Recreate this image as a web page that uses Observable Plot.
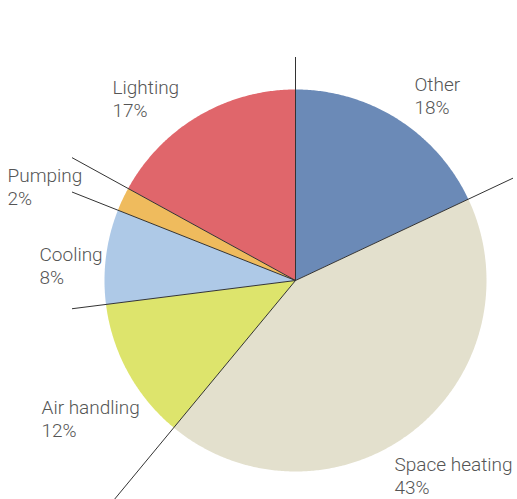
<!DOCTYPE html>
<html><head><meta charset="utf-8">
<script src="https://cdn.jsdelivr.net/npm/d3@7"></script>
<script src="https://cdn.jsdelivr.net/npm/@observablehq/plot@0.6"></script>
<style>body{margin:0;background:#fff}</style>
</head><body><div id="chart"></div>
<script>
const categories = ["Other", "Space heating", "Air handling", "Cooling", "Pumping", "Lighting"];
const shares = [18, 43, 12, 8, 2, 17];
const colors = ["#6b8ab7", "#e3e0cd", "#dde46c", "#aec9e7", "#efbb5d", "#e0666b"];

// layout (data units = pixels, origin at pie centre)
const R = 191;
const LEADER = 400;
const labelPos = [[119, 205], [99, -175], [-254, -118], [-256, 35], [-288, 114], [-183, 202]];

const total = d3.sum(shares);
let acc = 0;
const slices = categories.map((name, i) => {
  const a0 = acc / total * 2 * Math.PI;
  acc += shares[i];
  const a1 = acc / total * 2 * Math.PI;
  return {name, share: shares[i], a0, a1};
});
const wedgePts = slices.flatMap(s => {
  const pts = [{name: s.name, x: 0, y: 0}];
  const n = Math.max(2, Math.ceil((s.a1 - s.a0) / (Math.PI / 360)));
  for (let k = 0; k <= n; k++) {
    const a = s.a0 + (s.a1 - s.a0) * k / n;
    pts.push({name: s.name, x: R * Math.sin(a), y: R * Math.cos(a)});
  }
  return pts;
});
const boundaries = slices.map(s => ({x1: 0, y1: 0, x2: LEADER * Math.sin(s.a0), y2: LEADER * Math.cos(s.a0)}));
const labels = slices.map((s, i) => ({text: `${s.name}\n${s.share}%`, x: labelPos[i][0], y: labelPos[i][1]}));

const chart = Plot.plot({
  width: 517, height: 499,
  marginLeft: 72, marginRight: 4, marginTop: 57, marginBottom: 0,
  x: {domain: [-223, 218], axis: null},
  y: {domain: [-219, 223], axis: null},
  color: {domain: categories, range: colors},
  style: {background: "white", fontFamily: "Roboto, 'Liberation Sans', Helvetica, Arial, sans-serif"},
  marks: [
    Plot.line(wedgePts, {x: "x", y: "y", z: "name", fill: "name", stroke: "none", curve: "linear-closed"}),
    Plot.link(boundaries, {x1: "x1", y1: "y1", x2: "x2", y2: "y2", stroke: "#333", strokeWidth: 1, clip: true}),
    Plot.text(labels, {x: "x", y: "y", text: "text", textAnchor: "start", lineAnchor: "top", lineHeight: 1.18, fontSize: 19, fontWeight: 300, fill: "#555"})
  ]
});
document.getElementById("chart").appendChild(chart);
</script>
</body></html>
